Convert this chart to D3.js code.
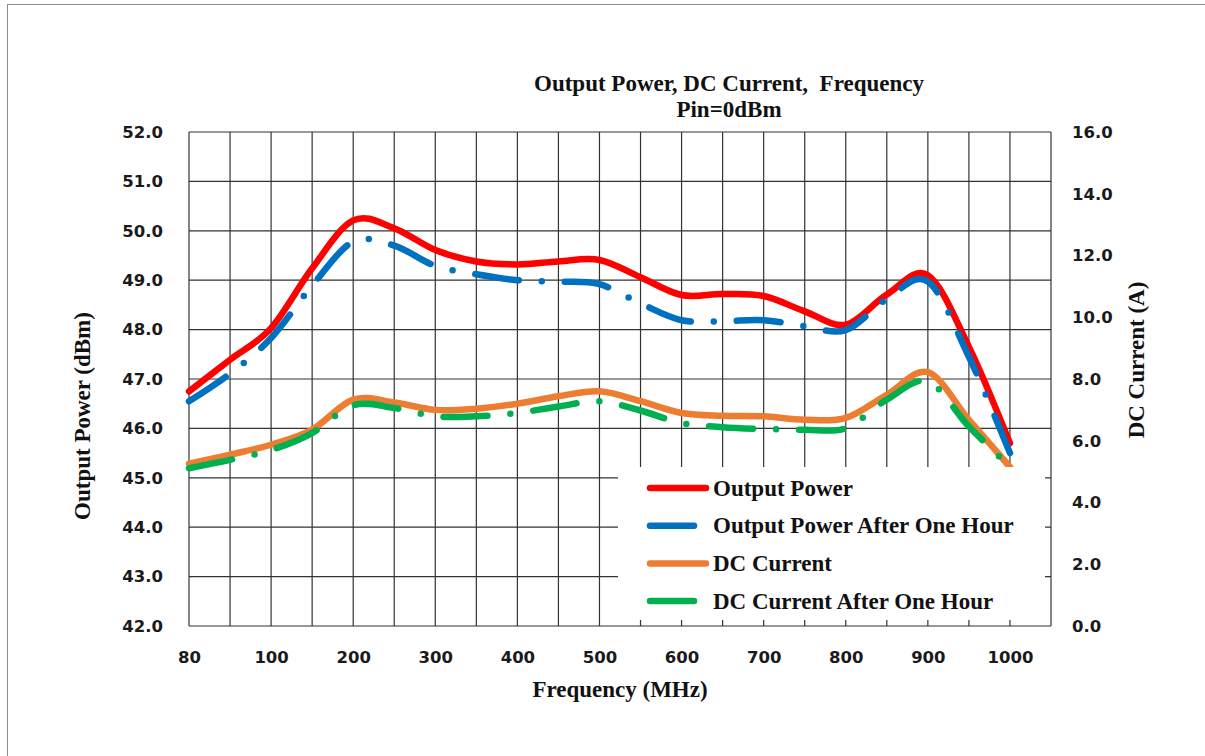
<!DOCTYPE html>
<meta charset="utf-8">
<script src="https://d3js.org/d3.v7.min.js"></script>
<style>
  body { margin: 0; background: #fff; }
  .tick text { font-family: "DejaVu Sans", sans-serif; font-weight: bold; font-size: 16.5px; fill: #1a1a1a; }
  .ttl { font-family: "Liberation Serif", "Times New Roman", serif; font-weight: bold; font-size: 23px; fill: #111; white-space: pre; }
</style>
<div id="chart"></div>
<script>

// category axis (Excel line chart) - one gridline per frequency step, last slot left empty
const freqs = [80, 90, 100, 150, 200, 250, 300, 350, 400, 450, 500, 550, 600, 650, 700, 750, 800, 850, 900, 950, 1000];
const xLabels = [80, 100, 200, 300, 400, 500, 600, 700, 800, 900, 1000];
const leftTicks = [42, 43, 44, 45, 46, 47, 48, 49, 50, 51, 52];
const rightTicks = [0, 2, 4, 6, 8, 10, 12, 14, 16];

// Output Power (dBm)
const powerNow  = [46.75, 47.39, 48.03, 49.24, 50.21, 50.05, 49.61, 49.38, 49.32, 49.38, 49.41, 49.06, 48.70, 48.72, 48.68, 48.37, 48.10, 48.71, 49.10, 47.65, 45.70];
// Output Power After One Hour (dBm)
const powerHour = [46.55, 47.11, 47.83, 48.89, 49.78, 49.70, 49.29, 49.12, 49.00, 48.97, 48.92, 48.53, 48.19, 48.17, 48.19, 48.07, 47.99, 48.62, 48.97, 47.45, 45.50];
// DC Current (A)
const dcNow  = [5.26, 5.55, 5.87, 6.36, 7.33, 7.24, 7.00, 7.04, 7.20, 7.44, 7.60, 7.28, 6.90, 6.81, 6.79, 6.68, 6.74, 7.49, 8.22, 6.68, 5.15];
// DC Current After One Hour (A)
const dcHour = [5.11, 5.38, 5.70, 6.25, 7.15, 7.06, 6.79, 6.79, 6.90, 7.11, 7.28, 6.98, 6.57, 6.44, 6.38, 6.36, 6.41, 7.33, 7.92, 6.46, 5.15];

const W = 1205, H = 756;
const plot = {left: 189, right: 1051, top: 132, bottom: 626};

const svg = d3.select("#chart").append("svg")
    .attr("width", W)
    .attr("height", H);

// chart area border (only top and left show in the picture)
svg.append("rect")
    .attr("x", 7.5).attr("y", 4.5)
    .attr("width", 1400).attr("height", 900)
    .attr("fill", "none")
    .attr("stroke", "#8c8c8c");

const x = d3.scalePoint()
    .domain([...freqs, 1050])
    .range([plot.left, plot.right]);

const y = d3.scaleLinear()
    .domain([42, 52])
    .range([plot.bottom, plot.top]);

const y2 = d3.scaleLinear()
    .domain([0, 16])
    .range([plot.bottom, plot.top]);

// gridlines
const grid = svg.append("g").attr("stroke", "#333").attr("stroke-width", 1.2);
grid.selectAll(".v").data(x.domain()).join("line")
    .attr("x1", d => x(d)).attr("x2", d => x(d))
    .attr("y1", plot.top).attr("y2", plot.bottom);
grid.selectAll(".h").data(leftTicks).join("line")
    .attr("x1", plot.left).attr("x2", plot.right)
    .attr("y1", d => y(d)).attr("y2", d => y(d));

// series
const series = [
  {name: "Output Power", values: powerNow, scale: y, color: "#ff0000", dash: null},
  {name: "Output Power After One Hour", values: powerHour, scale: y, color: "#0070c0", dash: "44 23 0 23"},
  {name: "DC Current", values: dcNow, scale: y2, color: "#ed7d31", dash: null},
  {name: "DC Current After One Hour", values: dcHour, scale: y2, color: "#00b050", dash: "44 23 0 23"}
];

series.forEach(s => {
  const line = d3.line()
      .x((d, i) => x(freqs[i]))
      .y(d => s.scale(d))
      .curve(d3.curveCardinal.tension(0));
  svg.append("path")
      .datum(s.values)
      .attr("d", line)
      .attr("fill", "none")
      .attr("stroke", s.color)
      .attr("stroke-width", 6.5)
      .attr("stroke-linecap", "round")
      .attr("stroke-linejoin", "round")
      .attr("stroke-dasharray", s.dash);
});

// legend (white box covering the grid)
svg.append("rect")
    .attr("x", 618).attr("y", 467)
    .attr("width", 427).attr("height", 153)
    .attr("fill", "#fff");

const legend = svg.append("g");
series.forEach((s, i) => {
  const ly = 488 + i * 37.7;
  legend.append("line")
      .attr("x1", 650).attr("x2", 706)
      .attr("y1", ly).attr("y2", ly)
      .attr("stroke", s.color)
      .attr("stroke-width", 6.5)
      .attr("stroke-linecap", "round")
      .attr("stroke-dasharray", s.dash);
  legend.append("text")
      .attr("class", "ttl")
      .attr("x", 713).attr("y", ly)
      .attr("dy", "0.33em")
      .text(s.name);
});

// axes
svg.append("g")
    .attr("transform", `translate(0, ${plot.bottom})`)
    .call(d3.axisBottom(x).tickValues(xLabels).tickSize(0).tickPadding(0))
    .call(g => g.select(".domain").remove())
    .call(g => g.selectAll("text").attr("y", 37).attr("dy", null));

svg.append("g")
    .attr("transform", `translate(${plot.left}, 0)`)
    .call(d3.axisLeft(y).tickValues(leftTicks).tickSize(0).tickPadding(26).tickFormat(d3.format(".1f")))
    .call(g => g.select(".domain").remove());

svg.append("g")
    .attr("transform", `translate(${plot.right}, 0)`)
    .call(d3.axisRight(y2).tickValues(rightTicks).tickSize(0).tickPadding(21).tickFormat(d3.format(".1f")))
    .call(g => g.select(".domain").remove());

// titles
svg.append("text").attr("class", "ttl")
    .attr("x", 729).attr("y", 91).attr("text-anchor", "middle")
    .text("Output Power, DC Current,  Frequency");
svg.append("text").attr("class", "ttl")
    .attr("x", 729).attr("y", 117).attr("text-anchor", "middle")
    .text("Pin=0dBm");

svg.append("text").attr("class", "ttl")
    .attr("x", 620).attr("y", 697).attr("text-anchor", "middle")
    .text("Frequency (MHz)");

svg.append("text").attr("class", "ttl")
    .attr("transform", "translate(90, 416) rotate(-90)")
    .attr("text-anchor", "middle")
    .text("Output Power (dBm)");

svg.append("text").attr("class", "ttl")
    .attr("transform", "translate(1144, 360) rotate(-90)")
    .attr("text-anchor", "middle")
    .text("DC Current (A)");

</script>
